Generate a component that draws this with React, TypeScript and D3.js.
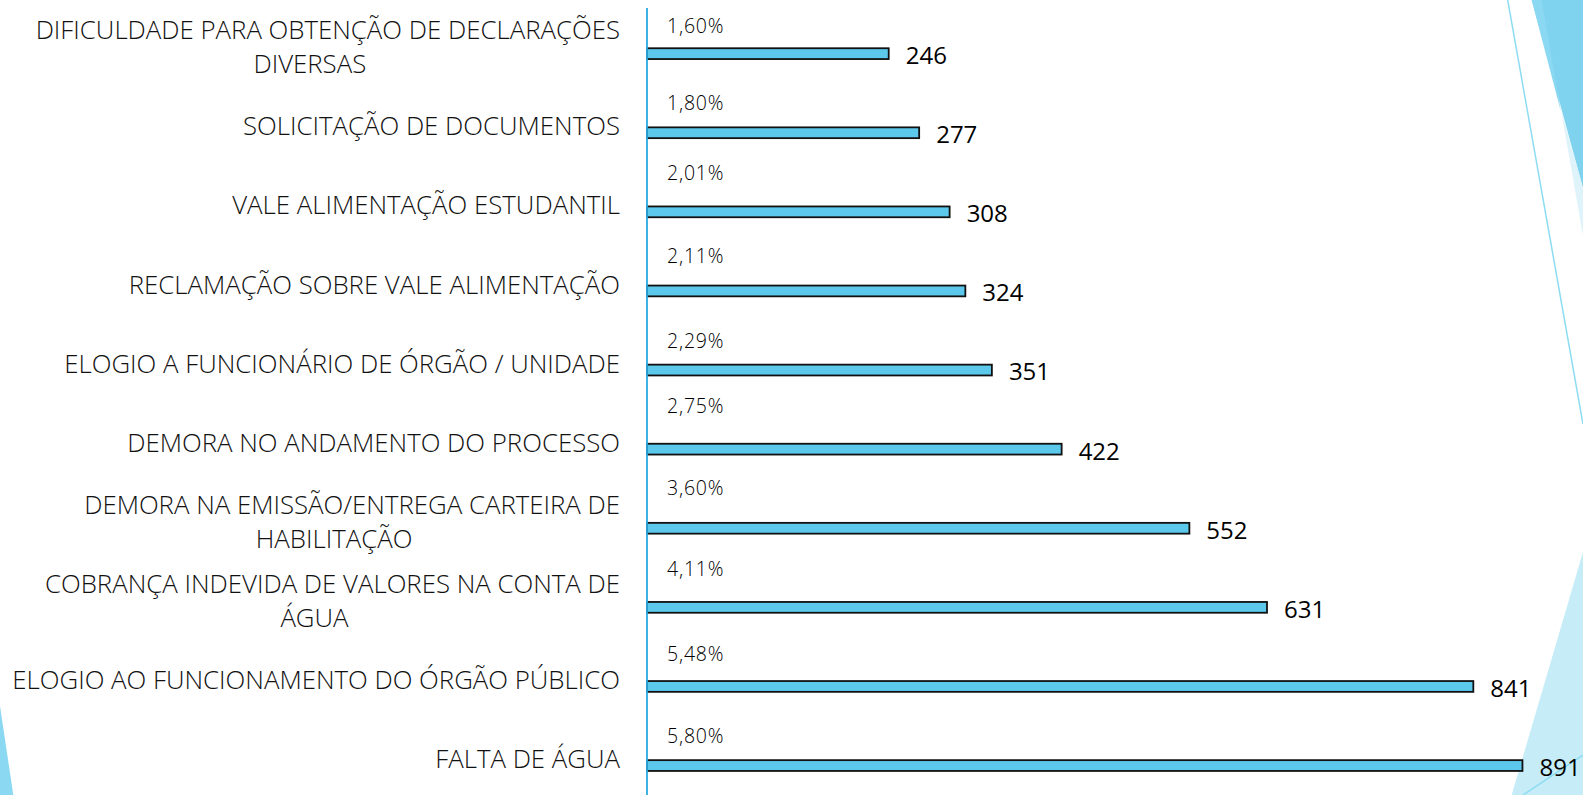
import React, { useEffect, useRef } from "react";
import * as d3 from "d3";

const categories = [
  "DIFICULDADE PARA OBTENÇÃO DE DECLARAÇÕES\nDIVERSAS",
  "SOLICITAÇÃO DE DOCUMENTOS",
  "VALE ALIMENTAÇÃO ESTUDANTIL",
  "RECLAMAÇÃO SOBRE VALE ALIMENTAÇÃO",
  "ELOGIO A FUNCIONÁRIO DE ÓRGÃO / UNIDADE",
  "DEMORA NO ANDAMENTO DO PROCESSO",
  "DEMORA NA EMISSÃO/ENTREGA CARTEIRA DE\nHABILITAÇÃO",
  "COBRANÇA INDEVIDA DE VALORES NA CONTA DE\nÁGUA",
  "ELOGIO AO FUNCIONAMENTO DO ÓRGÃO PÚBLICO",
  "FALTA DE ÁGUA",
];

const values = [246, 277, 308, 324, 351, 422, 552, 631, 841, 891];

const percentLabels = [
  "1,60%",
  "1,80%",
  "2,01%",
  "2,11%",
  "2,29%",
  "2,75%",
  "3,60%",
  "4,11%",
  "5,48%",
  "5,80%",
];

// manually dragged percent labels: vertical shift from the row centre
const percentLabelShift = [-21, -23, -32, -28, -22, -37, -34, -32, -26, -23];

const W = 1583;
const H = 795;
const FONT = "'Open Sans', 'Noto Sans', sans-serif";

export default function App() {
  const ref = useRef<SVGSVGElement | null>(null);

  useEffect(() => {
    const svg = d3.select(ref.current);
    svg.selectAll("*").remove();

    // background decorations
    const deco = svg.append("g");
    deco.append("polygon").attr("points", "1531.7,0 1583,0 1583,188").attr("fill", "#7fd3ef");
    deco.append("polygon").attr("points", "1531.7,0 1541.7,0 1561,112").attr("fill", "#8ad8f2");
    deco.append("polygon").attr("points", "1561,110 1583,188 1583,236").attr("fill", "#dff3fb");
    deco.append("polygon").attr("points", "1583,552 1511.7,795 1583,795").attr("fill", "#c6ecf8");
    deco.append("line").attr("x1", 1507.7).attr("y1", 0).attr("x2", 1583).attr("y2", 424)
      .attr("stroke", "#8ddcf3").attr("stroke-width", 1.5);
    deco.append("line").attr("x1", 1523).attr("y1", 795).attr("x2", 1583).attr("y2", 755)
      .attr("stroke", "#8ddcf3").attr("stroke-width", 1.5);
    deco.append("polygon").attr("points", "0,706 0,795 13.3,795").attr("fill", "#8ad8f2");

    const x = d3.scaleLinear().domain([0, 900]).range([647, 647 + 884.3]);
    const y = d3.scaleBand<string>().domain(categories).range([7.5, 798.5]).padding(0);
    const cy = (c: string) => (y(c) as number) + y.bandwidth() / 2;

    // bars
    svg.append("g")
      .selectAll("rect")
      .data(categories)
      .join("rect")
      .attr("x", x(0))
      .attr("y", (c) => cy(c) + 6.6 - 5.4)
      .attr("width", (c, i) => x(values[i]) - x(0))
      .attr("height", 10.8)
      .attr("fill", "#5bc8ec")
      .attr("stroke", "#111")
      .attr("stroke-width", 1.8);

    // axis line
    svg.append("line")
      .attr("x1", x(0)).attr("x2", x(0))
      .attr("y1", 8).attr("y2", H)
      .attr("stroke", "#29abe2").attr("stroke-width", 1.8);

    // value labels
    svg.append("g")
      .selectAll("text")
      .data(categories)
      .join("text")
      .attr("x", (c, i) => x(values[i]) + 17)
      .attr("y", (c) => cy(c) + 17)
      .attr("font-family", FONT)
      .attr("font-size", 24)
      .attr("font-weight", 500)
      .attr("fill", "#000")
      .text((c, i) => String(values[i]));

    // percent labels
    const pfs = 19.5;
    svg.append("g")
      .selectAll("text")
      .data(categories)
      .join("text")
      .attr("x", x(0) + 20)
      .attr("y", (c, i) => cy(c) + percentLabelShift[i] + 0.357 * pfs)
      .attr("font-family", FONT)
      .attr("font-weight", 300)
      .attr("font-size", pfs)
      .attr("letter-spacing", 0.8)
      .attr("fill", "#000")
      .text((c, i) => percentLabels[i]);

    // category labels
    const cfs = 25.8;
    const labelRight = 620;
    const g = svg.append("g")
      .attr("font-family", FONT)
      .attr("font-weight", 300)
      .attr("font-size", cfs)
      .attr("fill", "#111");
    categories.forEach((c) => {
      const lines = c.split("\n");
      const center = cy(c);
      if (lines.length === 1) {
        g.append("text")
          .attr("x", labelRight)
          .attr("y", center + 0.357 * cfs)
          .attr("text-anchor", "end")
          .text(lines[0]);
      } else {
        const t1 = g.append("text")
          .attr("x", labelRight)
          .attr("y", center - 17.3 + 0.357 * cfs)
          .attr("text-anchor", "end")
          .text(lines[0]);
        const w1 = (t1.node() as SVGTextElement).getComputedTextLength();
        g.append("text")
          .attr("x", labelRight - w1 / 2 - 18)
          .attr("y", center + 17 + 0.357 * cfs)
          .attr("text-anchor", "middle")
          .text(lines[1]);
      }
    });
  }, []);

  return (
    <svg
      ref={ref}
      width={W}
      height={H}
      style={{ position: "fixed", left: 0, top: 0, background: "#fff" }}
    />
  );
}
